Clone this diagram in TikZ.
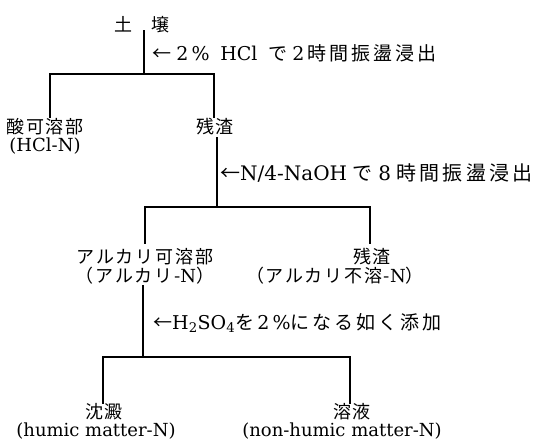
\documentclass[tikz,border=0pt]{standalone}
\usepackage{fontspec}
\setmainfont{DejaVu Serif}
\newfontfamily\jp{Noto Sans CJK JP}[LetterSpace=10]
\newfontfamily\jpw{Noto Sans CJK JP}[LetterSpace=16]
\tikzset{
  lab/.style={inner sep=0pt, font=\fontsize{18}{20}\selectfont},
  op/.style={inner sep=0pt, anchor=west, font=\fontsize{19}{21}\selectfont},
  ln/.style={line width=1.8pt, line cap=rect}
}
\begin{document}
\begin{tikzpicture}[x=1pt,y=-1pt]
\useasboundingbox (0,0) rectangle (542,445);
% nodes
\node[lab] (soil) at (142,25) {\jp 土\hspace{20pt}壌};
\node[op] (l1) at (152,53) {\jpw ←\rmfamily\;2\,\%\;\;HCl\;\;\jpw で\rmfamily\;2\,\jpw 時間振盪浸出};
\node[lab] (acid) at (45,127) {\jp 酸可溶部};
\node[lab] (acidN) at (45,146) {(HCl-N)};
\node[lab] (res1) at (215,127) {\jp 残渣};
\node[op,font=\fontsize{20}{22}\selectfont] (l2) at (220,173) {\jpw ←\rmfamily N/4-NaOH\;\jpw で\rmfamily\;8\;\jpw 時間振盪浸出};
\node[lab] (alk) at (145,257) {\jp アルカリ可溶部};
\node[lab] (alkN) at (145,276) {\jp （アルカリ-\rmfamily N\jp ）};
\node[lab] (res2) at (372,257) {\jp 残渣};
\node[lab] (res2N) at (335,276) {\jp （アルカリ不溶-\rmfamily N\jp ）};
\node[op] (l3) at (153,323) {\jpw ←\rmfamily H\textsubscript{2}SO\textsubscript{4}\jpw を\rmfamily\,2\,\%\jpw になる如く添加};
\node[lab] (ppt) at (104,412) {\jp 沈澱};
\node[lab] (pptN) at (96,431) {(humic matter-N)};
\node[lab] (sol) at (352,412) {\jp 溶液};
\node[lab] (solN) at (342,431) {(non-humic matter-N)};
% junction coordinates
\coordinate (a0) at (144,31);
\coordinate (a1) at (144,74);
\coordinate (aL) at (50,117);
\coordinate (aR) at (214,117);
\coordinate (b0) at (217,138);
\coordinate (b1) at (217,207);
\coordinate (bL) at (145,243);
\coordinate (bR) at (370,243);
\coordinate (c0) at (143,286);
\coordinate (c1) at (143,357);
\coordinate (cL) at (103,403);
\coordinate (cR) at (350,403);
% connectors
\draw[ln] (a0) -- (a1);
\draw[ln] (aL) -- (aL|-a1) -- (aR|-a1) -- (aR);
\draw[ln] (b0) -- (b1);
\draw[ln] (bL) -- (bL|-b1) -- (bR|-b1) -- (bR);
\draw[ln] (c0) -- (c1);
\draw[ln] (cL) -- (cL|-c1) -- (cR|-c1) -- (cR);
\end{tikzpicture}
\end{document}
